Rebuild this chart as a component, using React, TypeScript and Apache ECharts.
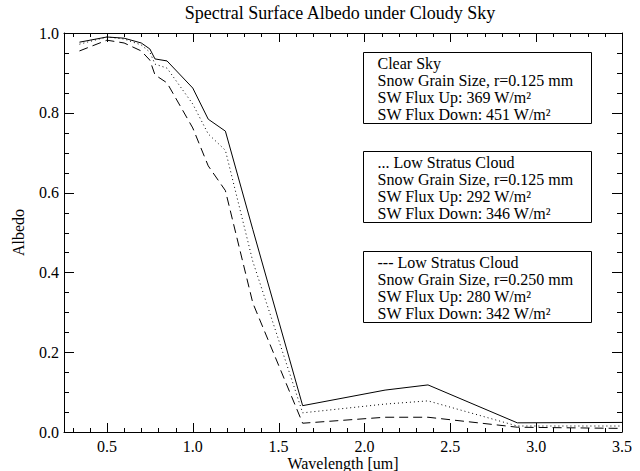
import React, { useEffect, useRef } from "react";
import * as echarts from "echarts";

// Wavelength (um) of the spectral band points
const wavelength = [0.34, 0.5, 0.6, 0.7, 0.75, 0.78, 0.85, 1.0, 1.09, 1.19, 1.35, 1.64, 2.12, 2.37, 2.89, 3.5];
// Clear sky, r=0.125 mm (solid)
const clearSky = [0.977, 0.99, 0.987, 0.975, 0.96, 0.935, 0.93, 0.862, 0.784, 0.754, 0.507, 0.066, 0.105, 0.118, 0.023, 0.024];
// Low stratus cloud, r=0.125 mm (dotted)
const stratus125 = [0.972, 0.99, 0.985, 0.97, 0.952, 0.922, 0.912, 0.822, 0.747, 0.706, 0.427, 0.048, 0.07, 0.078, 0.015, 0.015];
// Low stratus cloud, r=0.250 mm (dashed)
const stratus250 = [0.955, 0.982, 0.975, 0.955, 0.932, 0.895, 0.875, 0.762, 0.667, 0.605, 0.323, 0.022, 0.037, 0.037, 0.012, 0.009];

// Tick values (drawn on all four sides, pointing inward)
const xMajorTicks = [0.5, 1.0, 1.5, 2.0, 2.5, 3.0];
const xMinorTicks = [0.3, 0.4, 0.6, 0.7, 0.8, 0.9, 1.1, 1.2, 1.3, 1.4, 1.6, 1.7, 1.8, 1.9, 2.1, 2.2, 2.3, 2.4, 2.6, 2.7, 2.8, 2.9, 3.1, 3.2, 3.3, 3.4];
const yMajorTicks = [0.2, 0.4, 0.6, 0.8];
const yMinorTicks = [0.05, 0.1, 0.15, 0.25, 0.3, 0.35, 0.45, 0.5, 0.55, 0.65, 0.7, 0.75, 0.85, 0.9, 0.95];

const X_MIN = 0.25;
const X_MAX = 3.5;
const Y_MIN = 0;
const Y_MAX = 1;

const titleText = "Spectral Surface Albedo under Cloudy Sky";
const xName = "Wavelength [um]";
const yName = "Albedo";

const box1 = ["Clear Sky", "Snow Grain Size, r=0.125 mm", "SW Flux Up: 369 W/m²", "SW Flux Down: 451 W/m²"];
const box2 = ["... Low Stratus Cloud", "Snow Grain Size, r=0.125 mm", "SW Flux Up: 292 W/m²", "SW Flux Down: 346 W/m²"];
const box3 = ["--- Low Stratus Cloud", "Snow Grain Size, r=0.250 mm", "SW Flux Up: 280 W/m²", "SW Flux Down: 342 W/m²"];

const FONT = "'Liberation Serif', 'Times New Roman', serif";
const INK = "#000";

function pairs(xs: number[], ys: number[]) {
  return xs.map((x, i) => [x, ys[i]]);
}

function boxGraphic(lines: string[], top: number) {
  return {
    type: "group",
    left: 363,
    top: top,
    children: [
      {
        type: "rect",
        shape: { x: 0, y: 0, width: 228, height: 71 },
        style: { fill: "#fff", stroke: INK, lineWidth: 1 },
      },
      {
        type: "text",
        x: 14,
        y: 2,
        style: {
          text: lines.join("\n"),
          font: `16px ${FONT}`,
          fill: INK,
          lineHeight: 17,
          verticalAlign: "top",
          align: "left",
        },
      },
    ],
  };
}

function tickSeries(name: string, values: number[], axis: "x" | "y", len: number) {
  const data = axis === "x" ? values.map((v) => [v, Y_MIN]) : values.map((v) => [X_MIN, v]);
  return {
    type: "custom",
    name,
    silent: true,
    clip: false,
    z: 5,
    xAxisIndex: 0,
    yAxisIndex: 0,
    data,
    encode: { x: 0, y: 1 },
    renderItem: (_params: any, api: any) => {
      const style = { stroke: INK, lineWidth: 1, fill: null };
      if (axis === "x") {
        const v = api.value(0);
        const b = api.coord([v, Y_MIN]);
        const t = api.coord([v, Y_MAX]);
        const x = Math.round(b[0]) + 0.5;
        return {
          type: "group",
          children: [
            { type: "line", shape: { x1: x, y1: b[1], x2: x, y2: b[1] - len }, style },
            { type: "line", shape: { x1: x, y1: t[1], x2: x, y2: t[1] + len }, style },
          ],
        };
      }
      const v = api.value(1);
      const l = api.coord([X_MIN, v]);
      const r = api.coord([X_MAX, v]);
      const y = Math.round(l[1]) + 0.5;
      return {
        type: "group",
        children: [
          { type: "line", shape: { x1: l[0], y1: y, x2: l[0] + len, y2: y }, style },
          { type: "line", shape: { x1: r[0], y1: y, x2: r[0] - len, y2: y }, style },
        ],
      };
    },
  };
}

export default function App() {
  const ref = useRef<HTMLDivElement>(null);
  useEffect(() => {
    if (!ref.current) return;
    const chart = echarts.init(ref.current, undefined, { renderer: "svg" });
    const xBase = {
      type: "value",
      min: X_MIN,
      max: X_MAX,
      splitNumber: 7,
      axisLine: { show: true, onZero: false, lineStyle: { color: INK, width: 1 } },
      axisTick: { show: false },
      minorTick: { show: false },
      splitLine: { show: false },
    };
    const yBase = {
      type: "value",
      min: Y_MIN,
      max: Y_MAX,
      interval: 0.2,
      axisLine: { show: true, onZero: false, lineStyle: { color: INK, width: 1 } },
      axisTick: { show: false },
      minorTick: { show: false },
      splitLine: { show: false },
    };
    chart.setOption({
      animation: false,
      backgroundColor: "#fff",
      textStyle: { fontFamily: FONT },
      grid: { left: 64, right: 18, top: 33, bottom: 39, containLabel: false, outerBoundsMode: "none" },
      xAxis: [
        {
          ...xBase,
          position: "bottom",
          name: xName,
          nameLocation: "middle",
          nameGap: 23,
          nameMoveOverlap: false,
          nameTextStyle: { fontSize: 16, color: INK, fontFamily: FONT },
          axisLabel: {
            show: true,
            fontSize: 16,
            color: INK,
            fontFamily: FONT,
            margin: 6,
            showMinLabel: false,
            formatter: (v: number) => v.toFixed(1),
          },
        },
        {
          ...xBase,
          position: "top",
          axisLabel: { show: false },
        },
      ],
      yAxis: [
        {
          ...yBase,
          position: "left",
          name: yName,
          nameLocation: "middle",
          nameGap: 38,
          nameRotate: 90,
          nameMoveOverlap: false,
          nameTextStyle: { fontSize: 16, color: INK, fontFamily: FONT },
          axisLabel: {
            show: true,
            fontSize: 16,
            color: INK,
            fontFamily: FONT,
            margin: 5,
            formatter: (v: number) => v.toFixed(1),
          },
        },
        {
          ...yBase,
          position: "right",
          axisLabel: { show: false },
        },
      ],
      series: [
        {
          type: "line",
          name: "Clear Sky",
          data: pairs(wavelength, clearSky),
          symbol: "none",
          xAxisIndex: 0,
          yAxisIndex: 0,
          lineStyle: { color: INK, width: 1, type: "solid" },
        },
        {
          type: "line",
          name: "Low Stratus Cloud r=0.125",
          data: pairs(wavelength, stratus125),
          symbol: "none",
          xAxisIndex: 0,
          yAxisIndex: 0,
          lineStyle: { color: INK, width: 1, type: [1, 3] },
        },
        {
          type: "line",
          name: "Low Stratus Cloud r=0.250",
          data: pairs(wavelength, stratus250),
          symbol: "none",
          xAxisIndex: 0,
          yAxisIndex: 0,
          lineStyle: { color: INK, width: 1, type: [9, 5] },
        },
        tickSeries("xMajor", xMajorTicks, "x", 9),
        tickSeries("xMinor", xMinorTicks, "x", 4),
        tickSeries("yMajor", yMajorTicks, "y", 10),
        tickSeries("yMinor", yMinorTicks, "y", 5),
      ],
      graphic: [
        {
          type: "text",
          x: 340,
          y: 13,
          style: {
            text: titleText,
            font: `18px ${FONT}`,
            fill: INK,
            align: "center",
            verticalAlign: "middle",
          },
        },
        boxGraphic(box1, 52),
        boxGraphic(box2, 151),
        boxGraphic(box3, 251),
      ],
    });
    return () => chart.dispose();
  }, []);
  return (
    <div
      ref={ref}
      style={{ position: "absolute", left: 0, top: 0, width: 640, height: 471 }}
    />
  );
}
